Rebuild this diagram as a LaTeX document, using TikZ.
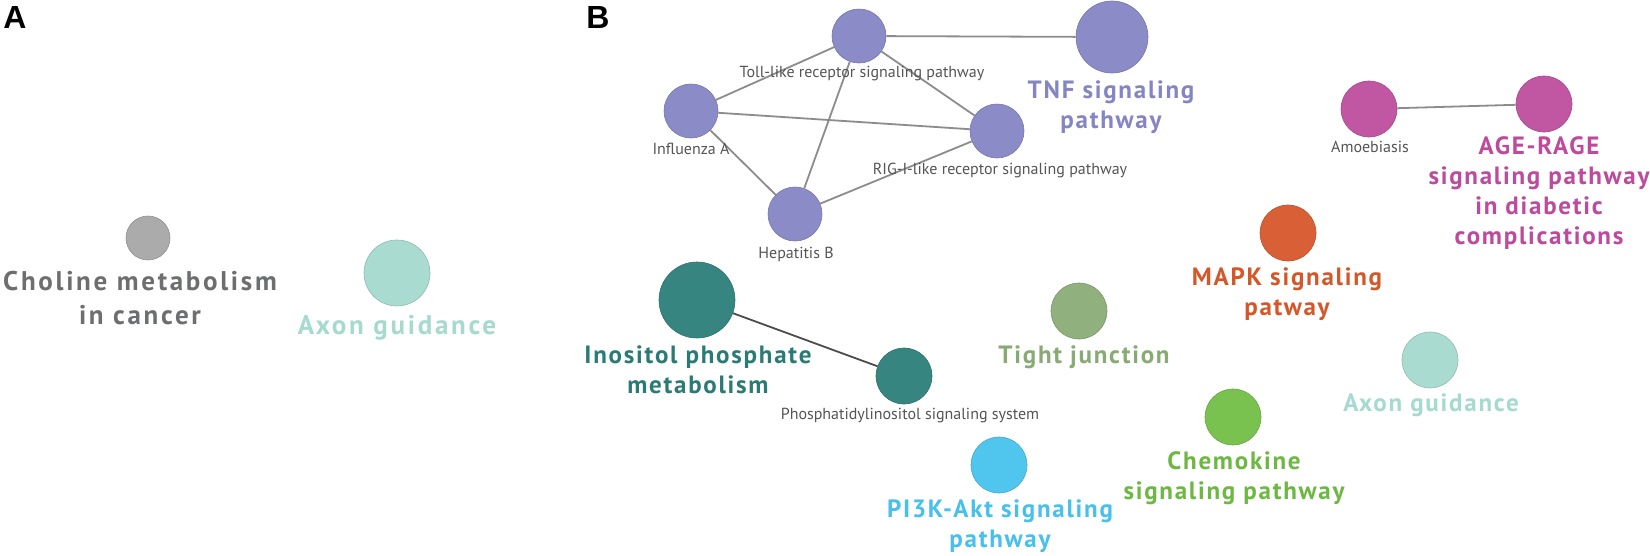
\documentclass[tikz,border=0pt]{standalone}
\usepackage{fontspec}
\setmainfont{PT Sans}
\newfontfamily\labfont[LetterSpace=7]{PT Sans}
\newfontfamily\labfontA[LetterSpace=10]{PT Sans}
\newfontfamily\abfont{Liberation Sans}
\definecolor{edgegray}{HTML}{8C8C8C}
\definecolor{smallgray}{HTML}{555555}
\definecolor{cholc}{HTML}{ABABAB}
\definecolor{cholt}{HTML}{6D6E70}
\definecolor{axonc}{HTML}{AADBD0}
\definecolor{axont}{HTML}{A6DACF}
\definecolor{tnfc}{HTML}{8B8BC8}
\definecolor{tnft}{HTML}{8585C4}
\definecolor{agec}{HTML}{C156A3}
\definecolor{aget}{HTML}{BD4A9C}
\definecolor{mapkc}{HTML}{D96036}
\definecolor{mapkt}{HTML}{D4572A}
\definecolor{inoc}{HTML}{378580}
\definecolor{inot}{HTML}{2A7B75}
\definecolor{tightc}{HTML}{90B07D}
\definecolor{tightt}{HTML}{88AA74}
\definecolor{chemc}{HTML}{7AC24F}
\definecolor{chemt}{HTML}{6DB843}
\definecolor{pikc}{HTML}{50C6EE}
\definecolor{pikt}{HTML}{47C0EC}
\begin{document}
\begin{tikzpicture}[x=1pt,y=-1pt,
  dot/.style 2 args={circle, inner sep=0pt, minimum size=#1, fill=#2, draw=#2!85!black, line width=0.6pt},
  big/.style={align=center, inner sep=0pt, text=#1,
    font=\labfont\bfseries\fontsize{25}{30}\selectfont},
  bigA/.style={align=center, inner sep=0pt, text=#1,
    font=\labfontA\bfseries\fontsize{27}{34}\selectfont},
  small/.style={inner sep=0pt, text=smallgray, font=\fontsize{16}{18}\selectfont},
  panel/.style={inner sep=0pt, font=\abfont\bfseries\fontsize{32}{34}\selectfont},
  edge/.style={draw=edgegray, line width=1.8pt}]
\useasboundingbox (0,0) rectangle (1650,555);
\fill[white] (0,0) rectangle (1650,555);

% panel letters
\node[panel] (pA) at (15,17) {A};
\node[panel] (pB) at (598,17) {B};

% panel A
\node[dot={44pt}{cholc}] (chol) at (148,238) {};
\node[bigA=cholt] (cholL) at (140,298) {Choline metabolism\\in cancer};
\node[dot={66pt}{axonc}] (axonA) at (397,273) {};
\node[bigA=axont] (axonAL) at (397,328) {Axon guidance};

% panel B: purple cluster
\node[dot={54pt}{tnfc}] (toll) at (859,36) {};
\node[dot={72pt}{tnfc}] (tnf) at (1112,37) {};
\node[dot={54pt}{tnfc}] (flu) at (691,111) {};
\node[dot={54pt}{tnfc}] (rig) at (997,131) {};
\node[dot={54pt}{tnfc}] (hep) at (795,214) {};

\draw[edge] (toll) -- (tnf);
\draw[edge] (toll) -- (flu);
\draw[edge] (toll) -- (hep);
\draw[edge] (toll) -- (rig);
\draw[edge] (flu) -- (rig);
\draw[edge] (flu) -- (hep);
\draw[edge] (hep) -- (rig);

\node[small] (tollL) at (862,74) {Toll-like receptor signaling pathway};
\node[small] (fluL) at (691,149) {Influenza A};
\node[small] (rigL) at (1000,170) {RIG-I-like receptor signaling pathway};
\node[small] (hepL) at (796,254) {Hepatitis B};
\node[big=tnft] (tnfL) at (1111,107) {TNF signaling\\pathway};

% magenta pair
\node[dot={56pt}{agec}] (amoe) at (1369,109) {};
\node[dot={56pt}{agec}] (age) at (1544,104) {};
\draw[edge] (amoe) -- (age);
\node[small] (amoeL) at (1370,147) {Amoebiasis};
\node[big=aget] (ageL) at (1539,193) {AGE-RAGE\\signaling pathway\\in diabetic\\complications};

% MAPK
\node[dot={56pt}{mapkc}] (mapk) at (1288,233) {};
\node[big=mapkt] (mapkL) at (1287,294) {MAPK signaling\\patway};

% inositol pair
\node[dot={76pt}{inoc}] (ino) at (697,300) {};
\node[dot={56pt}{inoc}] (phos) at (904,376) {};
\draw[draw=black!70, line width=1.8pt] (ino) -- (phos);
\node[big=inot] (inoL) at (698,370) {Inositol phosphate\\metabolism};
\node[small] (phosL) at (910,416) {Phosphatidylinositol signaling system};

% singletons
\node[dot={56pt}{tightc}] (tight) at (1079,311) {};
\node[big=tightt] (tightL) at (1084,357) {Tight junction};
\node[dot={56pt}{pikc}] (pik) at (999,465) {};
\node[big=pikt] (pikL) at (1000,526) {PI3K-Akt signaling\\pathway};
\node[dot={56pt}{axonc}] (axonB) at (1430,360) {};
\node[big=axont] (axonBL) at (1431,405) {Axon guidance};
\node[dot={56pt}{chemc}] (chem) at (1233,417) {};
\node[big=chemt] (chemL) at (1234,478) {Chemokine\\signaling pathway};
\end{tikzpicture}
\end{document}
